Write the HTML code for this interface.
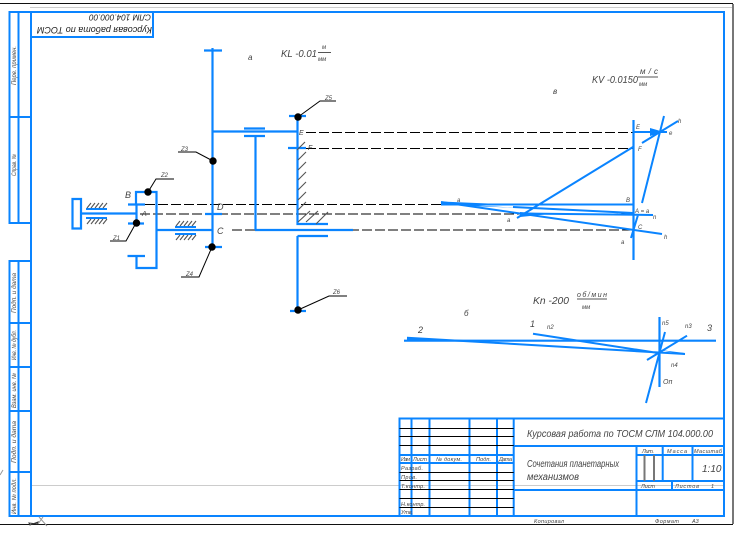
<!DOCTYPE html>
<html><head><meta charset="utf-8"><style>
html,body{margin:0;padding:0;background:#fff;width:747px;height:543px;overflow:hidden}
svg{display:block}
text{font-family:"Liberation Sans",sans-serif;font-style:italic;fill:#444}
.b{stroke:#0a84ff;stroke-width:2;fill:none}
.m{stroke:#0a84ff;stroke-width:2.2;fill:none}
.t{stroke:#000;stroke-width:1;fill:none}
.d{stroke:#000;stroke-width:1;stroke-dasharray:10 3;fill:none}
.h{stroke:#555;stroke-width:1.1;fill:none}
</style></head><body>
<svg width="747" height="543" viewBox="0 0 747 543" xmlns="http://www.w3.org/2000/svg">
<!-- outer sheet -->
<path d="M0 3.5H733" stroke="#111" stroke-width="1"/>
<path d="M30 7.5H733" stroke="#ccc" stroke-width="1"/>
<path d="M733 4V524" stroke="#777" stroke-width="2"/>
<path d="M0 524.5H733" stroke="#111" stroke-width="1"/>
<path d="M31 485.5H724" stroke="#ccc" stroke-width="1"/>
<!-- frame -->
<path class="b" d="M31 12H724V516H31Z"/>
<path class="b" d="M31 37H153V12"/>
<path class="b" d="M31 12H9.5V223H31M18.5 12V223M9.5 117H31"/>
<path class="b" d="M31 261H9.5V516H31M18.5 261V516M9.5 323H31M9.5 367H31M9.5 411H31M9.5 472H31"/>
<!-- title block -->
<path class="b" d="M399.5 516V418.5H724M411.5 418.5V516M429.5 418.5V516M469.5 418.5V516M497 418.5V516M513.7 418.5V516"/>
<path class="b" d="M399.5 455H513.7M399.5 463H513.7M513.7 446H724M513.7 490H724M636.5 446V516M636.5 455H724M636.5 481H724M662.7 446V481M692.5 446V481M672 481V490"/>
<path class="t" d="M399.5 428.5H513.7M399.5 436.5H513.7M399.5 445.5H513.7M399.5 472.5H513.7M399.5 480.5H513.7M399.5 489.5H513.7M399.5 498.5H513.7M399.5 507.5H513.7"/>
<path stroke="#777" stroke-width="2" d="M644.5 455V481M654 455V481"/>
<!-- title texts -->
<g font-size="10"><text x="527" y="437" textLength="186" lengthAdjust="spacingAndGlyphs">Курсовая работа по ТОСМ СЛМ 104.000.00</text>
<text x="527" y="467" textLength="92" lengthAdjust="spacingAndGlyphs">Сочетания планетарных</text>
<text x="527" y="480" textLength="52" lengthAdjust="spacingAndGlyphs">механизмов</text></g>
<text x="702" y="472" font-size="10">1:10</text>
<g font-size="5.5">
<text x="401" y="461" textLength="9">Изм</text><text x="413" y="461" textLength="14">Лист</text><text x="436" y="461" textLength="26">№ докум.</text><text x="476" y="461" textLength="15">Подп.</text><text x="499" y="461" textLength="13">Дата</text>
<text x="401" y="470" textLength="22">Разраб.</text><text x="401" y="479" textLength="16">Пров.</text><text x="401" y="488" textLength="24">Т.контр.</text><text x="401" y="506" textLength="24">Н.контр.</text><text x="401" y="514" textLength="12">Утв.</text>
<text x="642" y="453" textLength="12">Лит.</text><text x="667" y="453" textLength="20">Масса</text><text x="694" y="453" textLength="28">Масштаб</text>
<text x="641" y="488" textLength="14">Лист</text><text x="675" y="488" textLength="24">Листов</text><text x="711" y="488">1</text>
<text x="534" y="523" textLength="30">Копировал</text><text x="655" y="523" textLength="24">Формат</text><text x="692" y="523">А3</text>
</g>
<!-- stamp / side text -->
<text transform="rotate(180 151 14.5)" x="151" y="14.5" font-size="8" textLength="62" lengthAdjust="spacingAndGlyphs" style="fill:#222">СЛМ 104.000.00</text>
<text transform="rotate(180 152 27)" x="152" y="27" font-size="9" textLength="115" lengthAdjust="spacingAndGlyphs" style="fill:#222">Курсовая работа по ТОСМ</text>
<g font-size="6" style="fill:#222">
<text transform="translate(16 85) rotate(-90)" textLength="39" lengthAdjust="spacingAndGlyphs">Перв. примен.</text>
<text transform="translate(16 176) rotate(-90)" textLength="22" lengthAdjust="spacingAndGlyphs">Справ. №</text>
<text transform="translate(16 313) rotate(-90)" textLength="40" lengthAdjust="spacingAndGlyphs">Подп. и дата</text>
<text transform="translate(16 360) rotate(-90)" textLength="30" lengthAdjust="spacingAndGlyphs">Инв. № дубл.</text>
<text transform="translate(16 408) rotate(-90)" textLength="35" lengthAdjust="spacingAndGlyphs">Взам. инв. №</text>
<text transform="translate(16 463) rotate(-90)" textLength="42" lengthAdjust="spacingAndGlyphs">Подп. и дата</text>
<text transform="translate(16 514) rotate(-90)" textLength="36" lengthAdjust="spacingAndGlyphs">Инв. № подл.</text>
</g>
<!-- corner marks -->
<path d="M38 524L43 517M39 517L47 526" stroke="#999" fill="none"/>
<path d="M29 523L37 524L38 522L30 525Z" stroke="#333" fill="#fff"/>
<path d="M0 475L3 470" stroke="#999"/>
<!-- dashed -->
<path class="d" d="M145 204.5H632M140 214H630M232 230H632M306 132.5H634M306 148.5H633"/>
<!-- mechanism -->
<path class="m" d="M72.5 199H81V228.5H72.5ZM81 213.5H137"/>
<path class="b" d="M86 209H107M86 218H107M175 227H196M175 234H196"/>
<path class="h" d="M87 208l4-5M91 208l4-5M95 208l4-5M99 208l4-5M103 208l4-5M87 224l4-5M91 224l4-5M95 224l4-5M99 224l4-5M103 224l4-5M176 226l4-5M180 226l4-5M184 226l4-5M188 226l4-5M192 226l4-5M176 240l4-5M180 240l4-5M184 240l4-5M188 240l4-5M192 240l4-5"/>
<path class="m" d="M136 204.5V192H156.5V268H136.5V256M136.5 204.5V224M128 204.5H145M128 223.5H144M127.5 256H145M156.5 230H212.5"/>
<path class="m" d="M212.5 48V247M204 50.5H222M205 214H222M205 247H222"/>
<path class="m" d="M212.5 131.5H297.5M244 128.5H265M244 136H265M255.5 136V230M297.5 116V224H328M289 116H306M288 148H306M255 230H353M297.5 236H328M297.5 236V310M290 311H306"/>
<path class="h" d="M298 160l8-8M298 170l8-8M298 180l8-8M298 190l8-8M298 200l8-8M298 210l8-8M298 222l12-11M306 222l12-11M316 224l12-12M297 150l8-8"/>
<g fill="#000"><circle cx="148" cy="192" r="3.7"/><circle cx="136.5" cy="223" r="3.7"/><circle cx="213" cy="161" r="3.7"/><circle cx="212" cy="247" r="3.7"/><circle cx="298" cy="117" r="3.7"/><circle cx="298" cy="310" r="3.7"/></g>
<path class="t" d="M148 192L156 179H174M136 223L126 241H110M213 161L196 152H178M212 247L199 277H181M298 117L320 101H336M298 310L329 296H347"/>
<path d="M318 52.5H331M638 77H658M577 299H607" stroke="#555" fill="none"/>
<!-- velocity -->
<path class="m" d="M633.5 120V260"/>
<path class="b" d="M633 147L517 218M642 143L678 121M633 132H667M664 116L642 203M638 215L631 238M441 202L662 234M441 204.5H633M520 213.5L653 215M513 207L633 213"/>
<path fill="#0a84ff" d="M650 128L664 132L650 136ZM441 201.5L500 204L441 204ZM520 212L550 214L520 217ZM470 206L520 208L470 205Z"/>
<!-- rotation plan -->
<path class="m" d="M404 340.7H716M659.5 317V387"/>
<path class="b" d="M407 337.7L685 354M533 333.7L658 353M665 332L646 403M687 335.7L647 360"/>
<path fill="#0a84ff" d="M407 337L430 340H407ZM465 340L500 344L465 341ZM660 350L685 353V355Z"/>
<!-- labels -->
<g font-size="9"><text x="125" y="198">В</text><text x="142" y="216" font-size="7">А</text><text x="217" y="210">D</text><text x="217" y="234">C</text><text x="299" y="135" font-size="7">E</text><text x="308" y="150" font-size="7">F</text></g>
<g font-size="6"><text x="161" y="177">Z2</text><text x="113" y="240">Z1</text><text x="181" y="151">Z3</text><text x="186" y="276">Z4</text><text x="325" y="100">Z5</text><text x="333" y="294">Z6</text>
<text x="636" y="129">E</text><text x="638" y="151">F</text><text x="669" y="135">е</text><text x="678" y="123">h</text>
<text x="457" y="202">а</text><text x="507" y="222">а</text><text x="626" y="202">В</text><text x="635" y="213">А = а</text><text x="653" y="219">n</text><text x="638" y="229">C</text><text x="621" y="244">а</text><text x="664" y="239">h</text>
<text x="547" y="329">n2</text><text x="662" y="325">n5</text><text x="685" y="328">n3</text><text x="671" y="367">n4</text></g>
<g font-size="8"><text x="248" y="60">а</text><text x="553" y="94">в</text><text x="464" y="316">б</text><text x="418" y="333" font-size="9">2</text><text x="530" y="327" font-size="9">1</text><text x="707" y="331" font-size="9">3</text><text x="663" y="384" font-size="7">Оп</text></g>
<g font-size="10"><text x="281" y="57" textLength="36" lengthAdjust="spacingAndGlyphs">KL -0.01</text><text x="322" y="49" font-size="6">м</text><text x="318" y="61" font-size="6">мм</text>
<text x="592" y="83" textLength="46" lengthAdjust="spacingAndGlyphs">KV -0.0150</text><text x="640" y="74" font-size="8" textLength="18">м/с</text><text x="639" y="86" font-size="6">мм</text>
<text x="533" y="304" textLength="36" lengthAdjust="spacingAndGlyphs">Kn -200</text><text x="577" y="297" font-size="7" textLength="30">об/мин</text><text x="582" y="309" font-size="6">мм</text></g>
</svg>
</body></html>
